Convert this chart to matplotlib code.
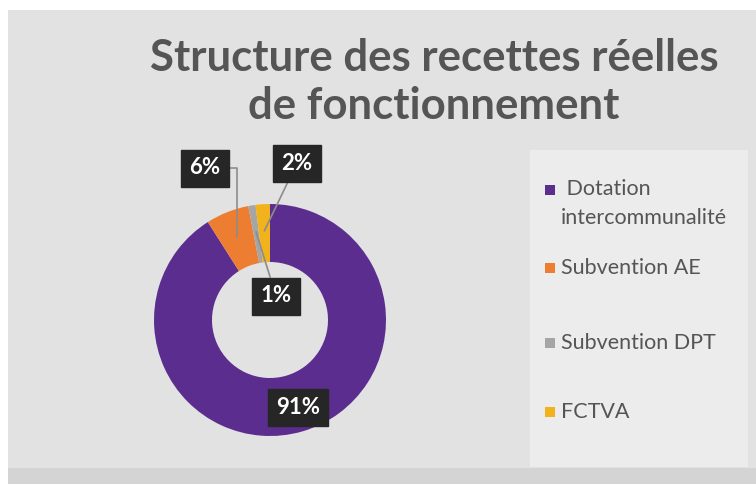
import numpy as np
import matplotlib.pyplot as plt
from matplotlib.patches import Rectangle

# data
labels = ["Dotation intercommunalité", "Subvention AE", "Subvention DPT", "FCTVA"]
legend_txt = [" Dotation\nintercommunalité", "Subvention AE", "Subvention DPT", "FCTVA"]
values = [91, 6, 1, 2]
pct_txt = ["91%", "6%", "1%", "2%"]
colors = ["#5b2d8e", "#ed7d31", "#a5a5a5", "#f2b21b"]

W, H = 756, 484
fig = plt.figure(figsize=(W / 100, H / 100), dpi=100)
fig.patch.set_facecolor("white")

def fx(px):
    return px / W

def fy(py):
    return 1 - py / H

# background panels
fig.patches.append(Rectangle((fx(8), 0), 1, fy(10), transform=fig.transFigure,
                             facecolor="#e2e2e2", edgecolor="none", zorder=-3))
fig.patches.append(Rectangle((fx(530), fy(467)), fx(748) - fx(530), fy(150) - fy(467),
                             transform=fig.transFigure, facecolor="#ececec",
                             edgecolor="none", zorder=-2))
fig.patches.append(Rectangle((fx(8), 0), 1, fy(468), transform=fig.transFigure,
                             facecolor="#d4d4d4", edgecolor="none", zorder=-1))

# title
fig.text(fx(434), fy(82), "Structure des recettes réelles\nde fonctionnement",
         ha="center", va="center", fontsize=31.5, fontweight="bold",
         color="#555555", family="Lato", linespacing=1.24)

# donut: center (270,320) px, radius 116 px
R = 116
lim = 1.6
cx, cy = 270, 320
ax = fig.add_axes([fx(cx - lim * R), (H - cy - lim * R) / H, 2 * lim * R / W, 2 * lim * R / H])

wedges, _ = ax.pie(values, colors=colors, startangle=90, counterclock=False,
                   radius=1.0, wedgeprops=dict(width=0.5, edgecolor="none"))
ax.set_xlim(-lim, lim)
ax.set_ylim(-lim, lim)
ax.axis("off")

def to_data(px, py):
    return ((px - cx) / R, (cy - py) / R)

box = dict(boxstyle="square,pad=0.36", facecolor="#262626", edgecolor="#262626")
lab_pos = [to_data(298, 407), to_data(205, 168), to_data(276, 296), to_data(297, 163)]
conn = [None, "angle,angleA=0,angleB=90,rad=0", "arc3", "arc3"]
for i, w in enumerate(wedges):
    mid = np.deg2rad((w.theta1 + w.theta2) / 2)
    xy = (0.77 * np.cos(mid), 0.77 * np.sin(mid))
    if i == 0:
        ax.text(*lab_pos[i], pct_txt[i], ha="center", va="center", fontsize=16,
                fontweight="bold", color="white", bbox=box, family="Lato")
    else:
        ax.annotate(pct_txt[i], xy=xy, xytext=lab_pos[i], ha="center", va="center",
                    fontsize=16, fontweight="bold", color="white", bbox=box,
                    family="Lato",
                    arrowprops=dict(arrowstyle="-", color="#8c8c8c", lw=1.2,
                                    shrinkA=0, shrinkB=0, connectionstyle=conn[i]))

# legend
leg_y = [190, 268, 343, 412]
for txt, c, y in zip(legend_txt, colors, leg_y):
    fig.patches.append(Rectangle((fx(545), fy(y + 5)), fx(10), 10 / H,
                                 transform=fig.transFigure, facecolor=c,
                                 edgecolor="none"))
    if "\n" in txt:
        fig.text(fx(561), fy(y - 11), txt, ha="left", va="top", fontsize=15.5,
                 color="#555555", family="Lato", linespacing=1.55)
    else:
        fig.text(fx(561), fy(y), txt, ha="left", va="center", fontsize=15.5,
                 color="#555555", family="Lato")

fig.savefig("out.png", dpi=100, facecolor=fig.get_facecolor())
